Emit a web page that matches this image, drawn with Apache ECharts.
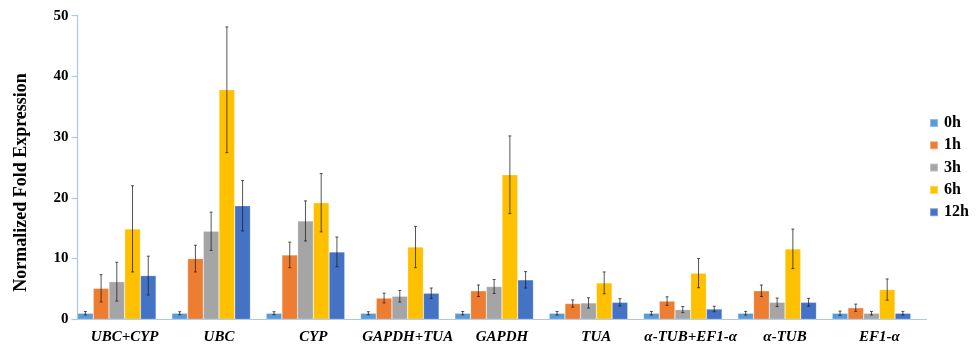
<!DOCTYPE html>
<html>
<head>
<meta charset="utf-8">
<title>Normalized Fold Expression</title>
<script src="https://cdn.jsdelivr.net/npm/echarts@6/dist/echarts.min.js"></script>
<style>
  html, body { margin: 0; padding: 0; background: #ffffff; }
  #chart { width: 977px; height: 345px; }
</style>
</head>
<body>
<div id="chart"></div>
<script>
// Reference gene combinations on the category axis
const categories = ['UBC+CYP', 'UBC', 'CYP', 'GAPDH+TUA', 'GAPDH', 'TUA', 'α-TUB+EF1-α', 'α-TUB', 'EF1-α'];
const timePoints = ['0h', '1h', '3h', '6h', '12h'];
const yTicks = [0, 10, 20, 30, 40, 50];

// Mean normalized fold expression per time point
const mean0h  = [1.0, 1.0, 1.0, 1.0, 1.0, 1.0, 1.0, 1.0, 1.0];
const mean1h  = [5.1, 10.0, 10.6, 3.5, 4.7, 2.6, 3.0, 4.7, 1.9];
const mean3h  = [6.2, 14.5, 16.2, 3.8, 5.4, 2.7, 1.6, 2.8, 1.0];
const mean6h  = [14.9, 37.8, 19.2, 11.9, 23.8, 6.0, 7.6, 11.6, 4.9];
const mean12h = [7.2, 18.7, 11.1, 4.3, 6.5, 2.8, 1.7, 2.8, 1.0];

// Error (±) per time point
const err0h  = [0.28, 0.25, 0.25, 0.25, 0.28, 0.3, 0.3, 0.3, 0.35];
const err1h  = [2.25, 2.2, 2.1, 0.8, 0.95, 0.6, 0.7, 0.95, 0.6];
const err3h  = [3.2, 3.15, 3.3, 0.95, 1.15, 0.85, 0.5, 0.7, 0.3];
const err6h  = [7.1, 10.35, 4.8, 3.4, 6.4, 1.8, 2.4, 3.25, 1.75];
const err12h = [3.2, 4.15, 2.45, 0.85, 1.35, 0.6, 0.45, 0.65, 0.3];

const colors = ['#5B9BD5', '#ED7D31', '#A5A5A5', '#FFC000', '#4472C4'];
const means = [mean0h, mean1h, mean3h, mean6h, mean12h];
const errs = [err0h, err1h, err3h, err6h, err12h];

// Each category is split into six slots; the five bars fill the first five
const SLOTS = 6;
const axisBlue = '#A9C9EA';
const serif = '"Liberation Serif", "Times New Roman", serif';

const barSeries = timePoints.map((name, j) => ({
  name: name,
  type: 'bar',
  data: means[j],
  barGap: '0%',
  barCategoryGap: '0%',
  itemStyle: { color: colors[j], borderColor: 'rgba(255,255,255,0.35)', borderWidth: 0.6 },
  z: 2
}));

// Empty series that only reserves the trailing slot in every category
barSeries.push({
  name: 'spacer',
  type: 'bar',
  data: [],
  barGap: '0%',
  barCategoryGap: '0%',
  silent: true
});

const errorSeries = timePoints.map((name, j) => ({
  name: name + ' error',
  type: 'custom',
  z: 5,
  silent: true,
  data: categories.map((c, i) => [i, means[j][i], errs[j][i]]),
  encode: { x: 0, y: 1 },
  renderItem: function (params, api) {
    const idx = api.value(0);
    const m = api.value(1);
    const e = api.value(2);
    const band = api.size([1, 0])[0];
    const slot = band / SLOTS;
    const center = api.coord([idx, m]);
    const x = center[0] - band / 2 + (j + 0.5) * slot;
    const yHi = api.coord([idx, m + e])[1];
    const yLo = api.coord([idx, m - e])[1];
    const cap = 1.5;
    const style = { stroke: 'rgba(30,30,30,0.75)', lineWidth: 1 };
    return {
      type: 'group',
      children: [
        { type: 'line', shape: { x1: x, y1: yHi, x2: x, y2: yLo }, style: style },
        { type: 'line', shape: { x1: x - cap, y1: yHi, x2: x + cap, y2: yHi }, style: style },
        { type: 'line', shape: { x1: x - cap, y1: yLo, x2: x + cap, y2: yLo }, style: style }
      ]
    };
  }
}));

const chart = echarts.init(document.getElementById('chart'), null, { renderer: 'canvas' });

chart.setOption({
  animation: false,
  backgroundColor: '#ffffff',
  color: colors,
  grid: { left: 77.5, right: 50.5, top: 15.7, bottom: 25.7, containLabel: false },
  legend: {
    data: timePoints,
    orient: 'vertical',
    left: 929,
    top: 115,
    padding: 0,
    itemWidth: 8,
    itemHeight: 8,
    itemGap: 6.3,
    icon: 'rect',
    textStyle: { fontFamily: serif, fontWeight: 'bold', fontSize: 16, color: '#000', padding: [0, 0, 0, 1] }
  },
  xAxis: {
    type: 'category',
    data: categories,
    boundaryGap: true,
    axisLine: { show: true, lineStyle: { color: axisBlue, width: 1.2 } },
    axisTick: { show: false },
    axisLabel: {
      interval: 0,
      margin: 10,
      fontFamily: serif,
      fontWeight: 'bold',
      fontStyle: 'italic',
      fontSize: 15,
      color: '#000'
    },
    splitLine: { show: false }
  },
  yAxis: {
    type: 'value',
    min: yTicks[0],
    max: yTicks[yTicks.length - 1],
    interval: yTicks[1] - yTicks[0],
    name: 'Normalized Fold Expression',
    nameLocation: 'middle',
    nameGap: 47,
    nameRotate: 90,
    nameTextStyle: {
      fontFamily: serif,
      fontWeight: 'bold',
      fontSize: 18,
      color: '#000',
      padding: [0, 30, 0, 0]
    },
    axisLine: { show: true, lineStyle: { color: axisBlue, width: 1.2 } },
    axisTick: { show: true, inside: false, length: 6, lineStyle: { color: axisBlue, width: 1.2 } },
    axisLabel: {
      margin: 9,
      fontFamily: serif,
      fontWeight: 'bold',
      fontSize: 15,
      color: '#000'
    },
    splitLine: { show: false }
  },
  series: barSeries.concat(errorSeries)
});
</script>
</body>
</html>
